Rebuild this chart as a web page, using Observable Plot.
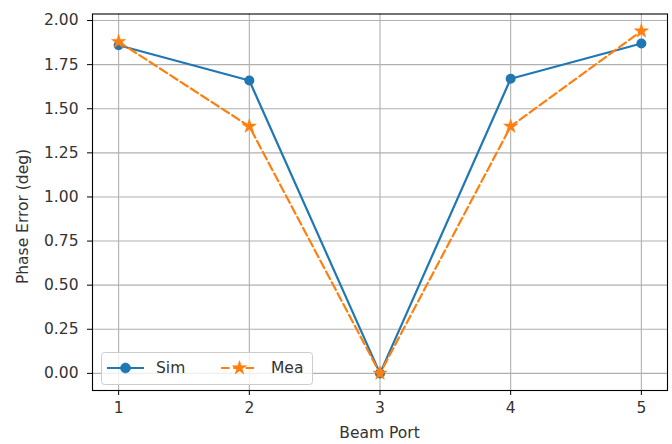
<!DOCTYPE html>
<html><head><meta charset="utf-8">
<script src="https://cdn.jsdelivr.net/npm/d3@7"></script>
<script src="https://cdn.jsdelivr.net/npm/@observablehq/plot@0.6"></script>
<style>body{margin:0;background:#fff;} svg{display:block;}</style>
</head><body><div id="chart"></div>
<script>
const ports = [1, 2, 3, 4, 5];
const simValues = [1.86, 1.66, 0.0, 1.67, 1.87];
const meaValues = [1.88, 1.40, 0.0, 1.40, 1.94];
const xTicks = [1, 2, 3, 4, 5];
const yTicks = [0, 0.25, 0.5, 0.75, 1.0, 1.25, 1.5, 1.75, 2.0];
const seriesNames = ["Sim", "Mea"];
const colors = ["#1f77b4", "#ff7f0e"];

const sim = ports.map((p, i) => ({port: p, value: simValues[i]}));
const mea = ports.map((p, i) => ({port: p, value: meaValues[i]}));

const font = "DejaVu Sans, sans-serif";
const fs = "15.5px";
const textColor = "#333333";
const dash = "8.5,3.8";
const starR = 4.4;
const chart = Plot.plot({
  width: 672, height: 444,
  marginLeft: 92, marginRight: 5, marginTop: 13.5, marginBottom: 54,
  style: {fontFamily: font, fontSize: fs, color: textColor, background: "#fff"},
  x: {domain: [0.8, 5.2], label: null},
  y: {domain: [-0.097, 2.037], label: null},
  marks: [
    Plot.gridX(xTicks, {stroke: "#b0b0b0", strokeOpacity: 1, strokeWidth: 1.1}),
    Plot.gridY(yTicks, {stroke: "#b0b0b0", strokeOpacity: 1, strokeWidth: 1.1}),
    Plot.axisX(xTicks, {tickSize: 5, tickPadding: 6, tickFormat: d3.format("d"), stroke: "#000", fill: textColor, fontSize: fs, label: null}),
    Plot.axisY(yTicks, {tickSize: 5, tickPadding: 9, tickFormat: d3.format(".2f"), stroke: "#000", fill: textColor, fontSize: fs, label: null}),
    Plot.line(sim, {x: "port", y: "value", stroke: colors[0], strokeWidth: 2.2}),
    Plot.dot(sim, {x: "port", y: "value", fill: colors[0], r: 5, symbol: "circle"}),
    Plot.line(mea, {x: "port", y: "value", stroke: colors[1], strokeWidth: 2.2, strokeDasharray: dash}),
    Plot.dot(mea, {x: "port", y: "value", fill: colors[1], stroke: colors[1], strokeWidth: 0.6, r: starR, symbol: "star"}),
    Plot.frame({stroke: "#000", strokeWidth: 1.1})
  ]
});
document.getElementById("chart").appendChild(chart);

// Axis titles and legend
const svg = d3.select(chart);
svg.append("text").attr("x", 379.5).attr("y", 433.5).attr("text-anchor", "middle")
  .attr("dominant-baseline", "middle").style("font-family", font).style("font-size", fs)
  .attr("fill", textColor).text("Beam Port");
svg.append("text").attr("transform", "translate(23,216.5) rotate(-90)").attr("text-anchor", "middle")
  .attr("dominant-baseline", "middle").style("font-family", font).style("font-size", fs)
  .attr("fill", textColor).text("Phase Error (deg)");

const lg = svg.append("g");
lg.append("rect").attr("x", 101.5).attr("y", 352.5).attr("width", 211).attr("height", 32)
  .attr("rx", 3).attr("fill", "#fff").attr("fill-opacity", 0.8).attr("stroke", "#cccccc");
const legendItems = [
  {name: seriesNames[0], color: colors[0], x0: 107, dash: null, sym: d3.symbolCircle, size: Math.PI * 25, tx: 156},
  {name: seriesNames[1], color: colors[1], x0: 221, dash: dash, sym: d3.symbolStar, size: Math.PI * starR * starR, tx: 271}
];
legendItems.forEach(it => {
  lg.append("line").attr("x1", it.x0).attr("x2", it.x0 + 37).attr("y1", 368).attr("y2", 368)
    .attr("stroke", it.color).attr("stroke-width", 2.2).attr("stroke-dasharray", it.dash);
  lg.append("path").attr("d", d3.symbol(it.sym, it.size)()).attr("transform", `translate(${it.x0 + 18.5},368)`)
    .attr("fill", it.color).attr("stroke", it.color).attr("stroke-width", 0.6);
  lg.append("text").attr("x", it.tx).attr("y", 368).attr("text-anchor", "start").attr("dominant-baseline", "middle")
    .style("font-family", font).style("font-size", fs).attr("fill", textColor).text(it.name);
});
</script></body></html>
